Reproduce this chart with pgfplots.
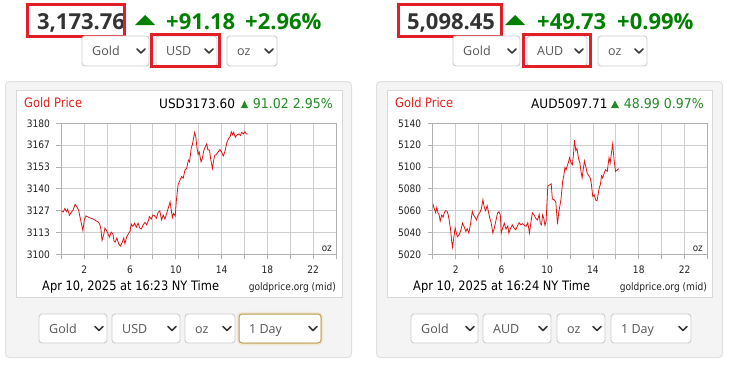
\documentclass[border=0pt]{standalone}
\usepackage{pgfplots}
\pgfplotsset{compat=1.18}
\usepackage{fontspec}
\setmainfont{Open Sans}
\newfontfamily\chartfont{DejaVu Sans}[FakeStretch=0.88]
\newfontfamily\headfont{DejaVu Sans}[FakeStretch=0.93]
\definecolor{boxred}{RGB}{226,30,38}
\definecolor{upgreen}{RGB}{0,128,0}
\definecolor{chgreen}{RGB}{34,139,34}
\definecolor{pricetxt}{RGB}{51,51,51}
\definecolor{ddborder}{RGB}{206,206,206}
\definecolor{ddtext}{RGB}{85,85,85}
\definecolor{ddchev}{RGB}{55,55,55}
\definecolor{panelbg}{RGB}{244,244,244}
\definecolor{panelborder}{RGB}{224,224,224}
\definecolor{innerborder}{RGB}{216,216,216}
\definecolor{gridc}{RGB}{206,206,206}
\definecolor{axisc}{RGB}{175,175,175}
\definecolor{titlered}{RGB}{225,30,30}
\definecolor{linered}{RGB}{225,20,20}
\definecolor{labc}{RGB}{34,34,34}
\definecolor{dayborder}{RGB}{196,165,85}
\definecolor{dayglow}{RGB}{240,232,210}

\newcommand{\dd}[5]{%
  \draw[draw=ddborder, fill=white, rounded corners=3pt, line width=0.9pt] (#1,#2) rectangle (#3,#4);
  \node[anchor=base west, inner sep=0pt, text=ddtext, font=\fontsize{12.5}{14}\selectfont] at ({#1+10},{(#2+#4)/2+4.5}) {#5};
  \draw[draw=ddchev, line width=1.7pt, line cap=round, line join=round] ({#3-12},{(#2+#4)/2-2}) -- ({#3-8},{(#2+#4)/2+2}) -- ({#3-4},{(#2+#4)/2-2});
}

\pgfplotstableread{
h v
0.00 3126.5
0.15 3125.8
0.30 3128.0
0.45 3126.0
0.55 3127.5
0.70 3123.8
0.85 3125.5
1.00 3126.8
1.20 3130.5
1.35 3129.0
1.50 3127.0
1.65 3122.0
1.80 3117.0
1.88 3114.5
2.00 3121.0
2.15 3123.5
2.40 3122.5
2.60 3122.0
2.80 3121.5
3.00 3120.5
3.20 3119.8
3.35 3118.5
3.45 3115.5
3.55 3108.5
3.70 3112.0
3.80 3116.0
3.95 3114.5
4.05 3113.0
4.20 3110.5
4.35 3113.5
4.50 3112.5
4.60 3108.0
4.70 3107.5
4.85 3110.0
5.00 3106.5
5.15 3105.0
5.30 3107.0
5.45 3110.0
5.55 3106.5
5.70 3110.5
5.85 3112.5
6.00 3114.0
6.10 3118.5
6.25 3117.0
6.40 3119.0
6.55 3116.5
6.70 3119.0
6.85 3116.0
7.00 3115.5
7.15 3118.0
7.30 3119.5
7.45 3118.0
7.60 3120.5
7.70 3123.0
7.85 3121.5
8.00 3124.0
8.15 3123.5
8.30 3122.0
8.45 3125.5
8.60 3126.5
8.75 3121.0
8.90 3124.0
9.05 3121.5
9.20 3125.0
9.35 3128.5
9.50 3132.0
9.60 3127.0
9.70 3122.5
9.80 3125.0
9.95 3123.5
10.05 3133.0
10.20 3142.5
10.35 3145.0
10.50 3147.5
10.65 3146.5
10.80 3151.5
10.95 3152.5
11.10 3157.5
11.20 3156.5
11.35 3165.0
11.45 3167.0
11.55 3171.0
11.65 3174.5
11.75 3171.5
11.85 3165.0
11.95 3161.0
12.05 3162.5
12.20 3156.5
12.30 3158.0
12.45 3163.5
12.60 3166.0
12.70 3167.5
12.80 3164.0
12.95 3163.5
13.05 3158.0
13.20 3152.5
13.30 3157.0
13.40 3160.5
13.55 3161.0
13.70 3162.5
13.85 3164.0
14.00 3162.5
14.15 3160.0
14.30 3163.0
14.45 3168.0
14.60 3170.5
14.75 3172.0
14.85 3174.8
14.95 3173.0
15.05 3174.5
15.20 3171.5
15.35 3173.0
15.50 3173.5
15.65 3172.5
15.75 3174.5
15.90 3173.5
16.05 3174.8
16.15 3173.5
16.30 3173.5
}\usdtable

\pgfplotstableread{
h v
0.00 5066.5
0.12 5062.0
0.25 5058.0
0.35 5063.0
0.45 5058.0
0.55 5056.0
0.65 5050.5
0.78 5056.0
0.90 5054.0
1.00 5058.0
1.12 5060.0
1.25 5059.5
1.35 5056.0
1.45 5050.0
1.55 5043.0
1.65 5032.0
1.72 5026.5
1.82 5034.0
1.95 5044.0
2.05 5040.0
2.15 5036.0
2.30 5038.0
2.45 5042.0
2.60 5048.5
2.75 5045.0
2.88 5041.0
3.00 5043.5
3.15 5039.5
3.30 5048.0
3.45 5059.5
3.55 5056.0
3.70 5054.0
3.82 5051.5
3.95 5056.0
4.10 5058.0
4.25 5062.0
4.38 5070.0
4.50 5063.0
4.62 5060.0
4.75 5064.5
4.88 5058.0
4.98 5053.0
5.10 5049.0
5.25 5039.5
5.35 5043.0
5.50 5050.0
5.65 5057.5
5.78 5059.0
5.90 5056.0
5.98 5039.5
6.10 5044.0
6.25 5048.5
6.40 5043.0
6.55 5046.0
6.65 5039.5
6.80 5044.0
6.95 5047.0
7.10 5044.0
7.25 5042.5
7.40 5046.0
7.55 5049.0
7.70 5047.0
7.85 5048.0
8.00 5046.5
8.15 5045.5
8.30 5049.0
8.45 5039.5
8.60 5051.0
8.70 5058.0
8.85 5056.0
9.00 5053.0
9.15 5051.5
9.30 5056.5
9.40 5048.0
9.50 5047.0
9.60 5056.0
9.70 5053.0
9.80 5046.5
9.90 5050.0
10.05 5082.5
10.20 5083.5
10.35 5084.5
10.45 5070.5
10.60 5070.0
10.75 5068.0
10.90 5047.5
11.00 5058.0
11.10 5064.0
11.20 5070.0
11.35 5087.0
11.45 5092.0
11.55 5099.5
11.65 5097.5
11.75 5101.0
11.85 5104.0
11.95 5108.5
12.10 5103.5
12.20 5102.0
12.30 5112.0
12.38 5124.5
12.50 5115.0
12.60 5117.0
12.75 5107.0
12.85 5104.0
12.95 5096.0
13.05 5090.0
13.15 5098.0
13.25 5105.5
13.40 5099.0
13.50 5094.0
13.60 5092.5
13.75 5090.0
13.85 5085.0
13.98 5073.0
14.10 5074.5
14.25 5069.5
14.35 5069.0
14.45 5075.0
14.55 5081.0
14.65 5084.0
14.75 5092.0
14.85 5090.0
15.00 5095.0
15.10 5097.5
15.25 5096.0
15.40 5108.5
15.50 5103.5
15.60 5112.0
15.72 5121.0
15.85 5106.0
15.97 5096.0
16.10 5097.0
16.25 5098.5
}\audtable

\pgfplotsset{
  goldaxis/.style={
    scale only axis, width=274.6pt, height=131pt,
    xmin=0, xmax=24,
    xtick={0,2,...,24},
    xticklabels={,2,,6,,10,,14,,18,,22,},
    grid=major,
    major grid style={draw=gridc, line width=0.9pt},
    axis line style={draw=axisc, line width=0.9pt},
    tick style={draw=axisc, line width=0.9pt},
    tick align=outside, major tick length=5pt,
    tick pos=left,
    ticklabel style={font=\chartfont\fontsize{10.3}{12}\selectfont, text=labc},
    xticklabel style={yshift=-3pt},
    yticklabel style={xshift=-3pt},
    anchor=south west,
  }
}

\begin{document}
\begin{tikzpicture}
\useasboundingbox (0pt,0pt) rectangle (731pt,-367pt);
\fill[white] (0pt,0pt) rectangle (731pt,-367pt);
\begin{scope}[x=1pt,y=-1pt]
  % ===== Left header =====
  \node[anchor=base, inner sep=0pt, text=pricetxt, font=\fontsize{22}{24}\bfseries\selectfont] at (81,29.5) {3,173.76};
  \draw[draw=boxred, line width=3pt] (27.5,4.5) rectangle (124.5,36.5);
  \fill[upgreen] (135,25) -- (155,25) -- (145,15) -- cycle;
  \node[anchor=base west, inner sep=0pt, text=upgreen, font=\fontsize{22}{24}\bfseries\selectfont] at (166,29.5) {+91.18};
  \node[anchor=base west, inner sep=0pt, text=upgreen, font=\fontsize{22}{24}\bfseries\selectfont] at (245,29.5) {+2.96\%};
  \dd{82}{36}{149}{66}{Gold}
  \dd{156}{36}{217}{66}{USD}
  \dd{227}{36}{277}{66}{oz}
  \draw[draw=boxred, line width=3pt] (151.5,34.5) rectangle (219.5,66.5);
  % ===== Left panel =====
  \draw[draw=panelborder, fill=panelbg, rounded corners=4pt, line width=1pt] (5.5,81.5) rectangle (351.5,357.5);
  \draw[draw=innerborder, fill=white, line width=0.8pt] (16.5,90.5) rectangle (342.5,297.5);
  \node[anchor=base west, inner sep=0pt, text=titlered, font=\chartfont\fontsize{13}{15}\selectfont] at (24,107) {Gold Price};
  \node[anchor=base west, inner sep=0pt, text=black, font=\headfont\fontsize{13}{15}\selectfont] at (159,108) {USD3173.60};
  \fill[chgreen] (241,108) -- (248,108) -- (244.5,100.5) -- cycle;
  \node[anchor=base east, inner sep=0pt, text=chgreen, font=\headfont\fontsize{13.5}{15}\selectfont] at (333,108) {91.02 2.95\%};
  \node[anchor=base west, inner sep=0pt, text=black, font=\chartfont\fontsize{13}{15}\selectfont] at (42,290) {Apr 10, 2025 at 16:23 NY Time};
  \node[anchor=base east, inner sep=0pt, text=labc, font=\chartfont\fontsize{10.3}{12}\selectfont] at (336,290) {goldprice.org (mid)};
  \dd{39}{314}{107}{343}{Gold}
  \dd{112}{314}{180}{343}{USD}
  \dd{185}{314}{235}{343}{oz}
  \draw[draw=dayglow, line width=2.5pt, rounded corners=4pt] (238,313) rectangle (322,344);
  \dd{239}{314}{321}{343}{1 Day}
  \draw[draw=dayborder, line width=1pt, rounded corners=3pt] (239,314) rectangle (321,343);

  % ===== Right header =====
  \node[anchor=base, inner sep=0pt, text=pricetxt, font=\fontsize{22}{24}\bfseries\selectfont] at (451,29.5) {5,098.45};
  \draw[draw=boxred, line width=3pt] (398.5,4.5) rectangle (501.5,36.5);
  \fill[upgreen] (505,25) -- (525,25) -- (515,15) -- cycle;
  \node[anchor=base west, inner sep=0pt, text=upgreen, font=\fontsize{22}{24}\bfseries\selectfont] at (537,29.5) {+49.73};
  \node[anchor=base west, inner sep=0pt, text=upgreen, font=\fontsize{22}{24}\bfseries\selectfont] at (617,29.5) {+0.99\%};
  \dd{453}{36}{520}{66}{Gold}
  \dd{527}{36}{587}{66}{AUD}
  \dd{598}{36}{647}{66}{oz}
  \draw[draw=boxred, line width=3pt] (523.5,34.5) rectangle (590.5,66.5);
  % ===== Right panel =====
  \draw[draw=panelborder, fill=panelbg, rounded corners=4pt, line width=1pt] (376.5,81.5) rectangle (722.5,357.5);
  \draw[draw=innerborder, fill=white, line width=0.8pt] (387.5,90.5) rectangle (712.5,297.5);
  \node[anchor=base west, inner sep=0pt, text=titlered, font=\chartfont\fontsize{13}{15}\selectfont] at (395,107) {Gold Price};
  \node[anchor=base west, inner sep=0pt, text=black, font=\headfont\fontsize{13}{15}\selectfont] at (531,108) {AUD5097.71};
  \fill[chgreen] (611,108) -- (619,108) -- (615,100.5) -- cycle;
  \node[anchor=base east, inner sep=0pt, text=chgreen, font=\headfont\fontsize{13.5}{15}\selectfont] at (704,108) {48.99 0.97\%};
  \node[anchor=base west, inner sep=0pt, text=black, font=\chartfont\fontsize{13}{15}\selectfont] at (413,290) {Apr 10, 2025 at 16:24 NY Time};
  \node[anchor=base east, inner sep=0pt, text=labc, font=\chartfont\fontsize{10.3}{12}\selectfont] at (707,290) {goldprice.org (mid)};
  \dd{411}{314}{478}{343}{Gold}
  \dd{483}{314}{551}{343}{AUD}
  \dd{557}{314}{605}{343}{oz}
  \dd{611}{314}{691}{343}{1 Day}
\end{scope}

\begin{axis}[goldaxis, at={(61.4pt,-254.3pt)},
  ymin=3100, ymax=3180,
  ytick={3100,3113.333,3126.667,3140,3153.333,3166.667,3180},
  yticklabels={3100,3113,3127,3140,3153,3167,3180}]
  \addplot[draw=linered, line width=0.8pt, mark=none] table[x=h, y=v] {\usdtable};
\end{axis}

\begin{axis}[goldaxis, at={(432.8pt,-254.3pt)},
  ymin=5020, ymax=5140,
  ytick={5020,5040,5060,5080,5100,5120,5140},
  yticklabels={5020,5040,5060,5080,5100,5120,5140}]
  \addplot[draw=linered, line width=0.8pt, mark=none] table[x=h, y=v] {\audtable};
\end{axis}

\begin{scope}[x=1pt,y=-1pt]
  \node[anchor=base east, inner sep=0pt, text=labc, font=\chartfont\fontsize{10}{12}\selectfont] at (332,251.5) {oz};
  \node[anchor=base east, inner sep=0pt, text=labc, font=\chartfont\fontsize{10}{12}\selectfont] at (703,251.5) {oz};
\end{scope}
\end{tikzpicture}
\end{document}
